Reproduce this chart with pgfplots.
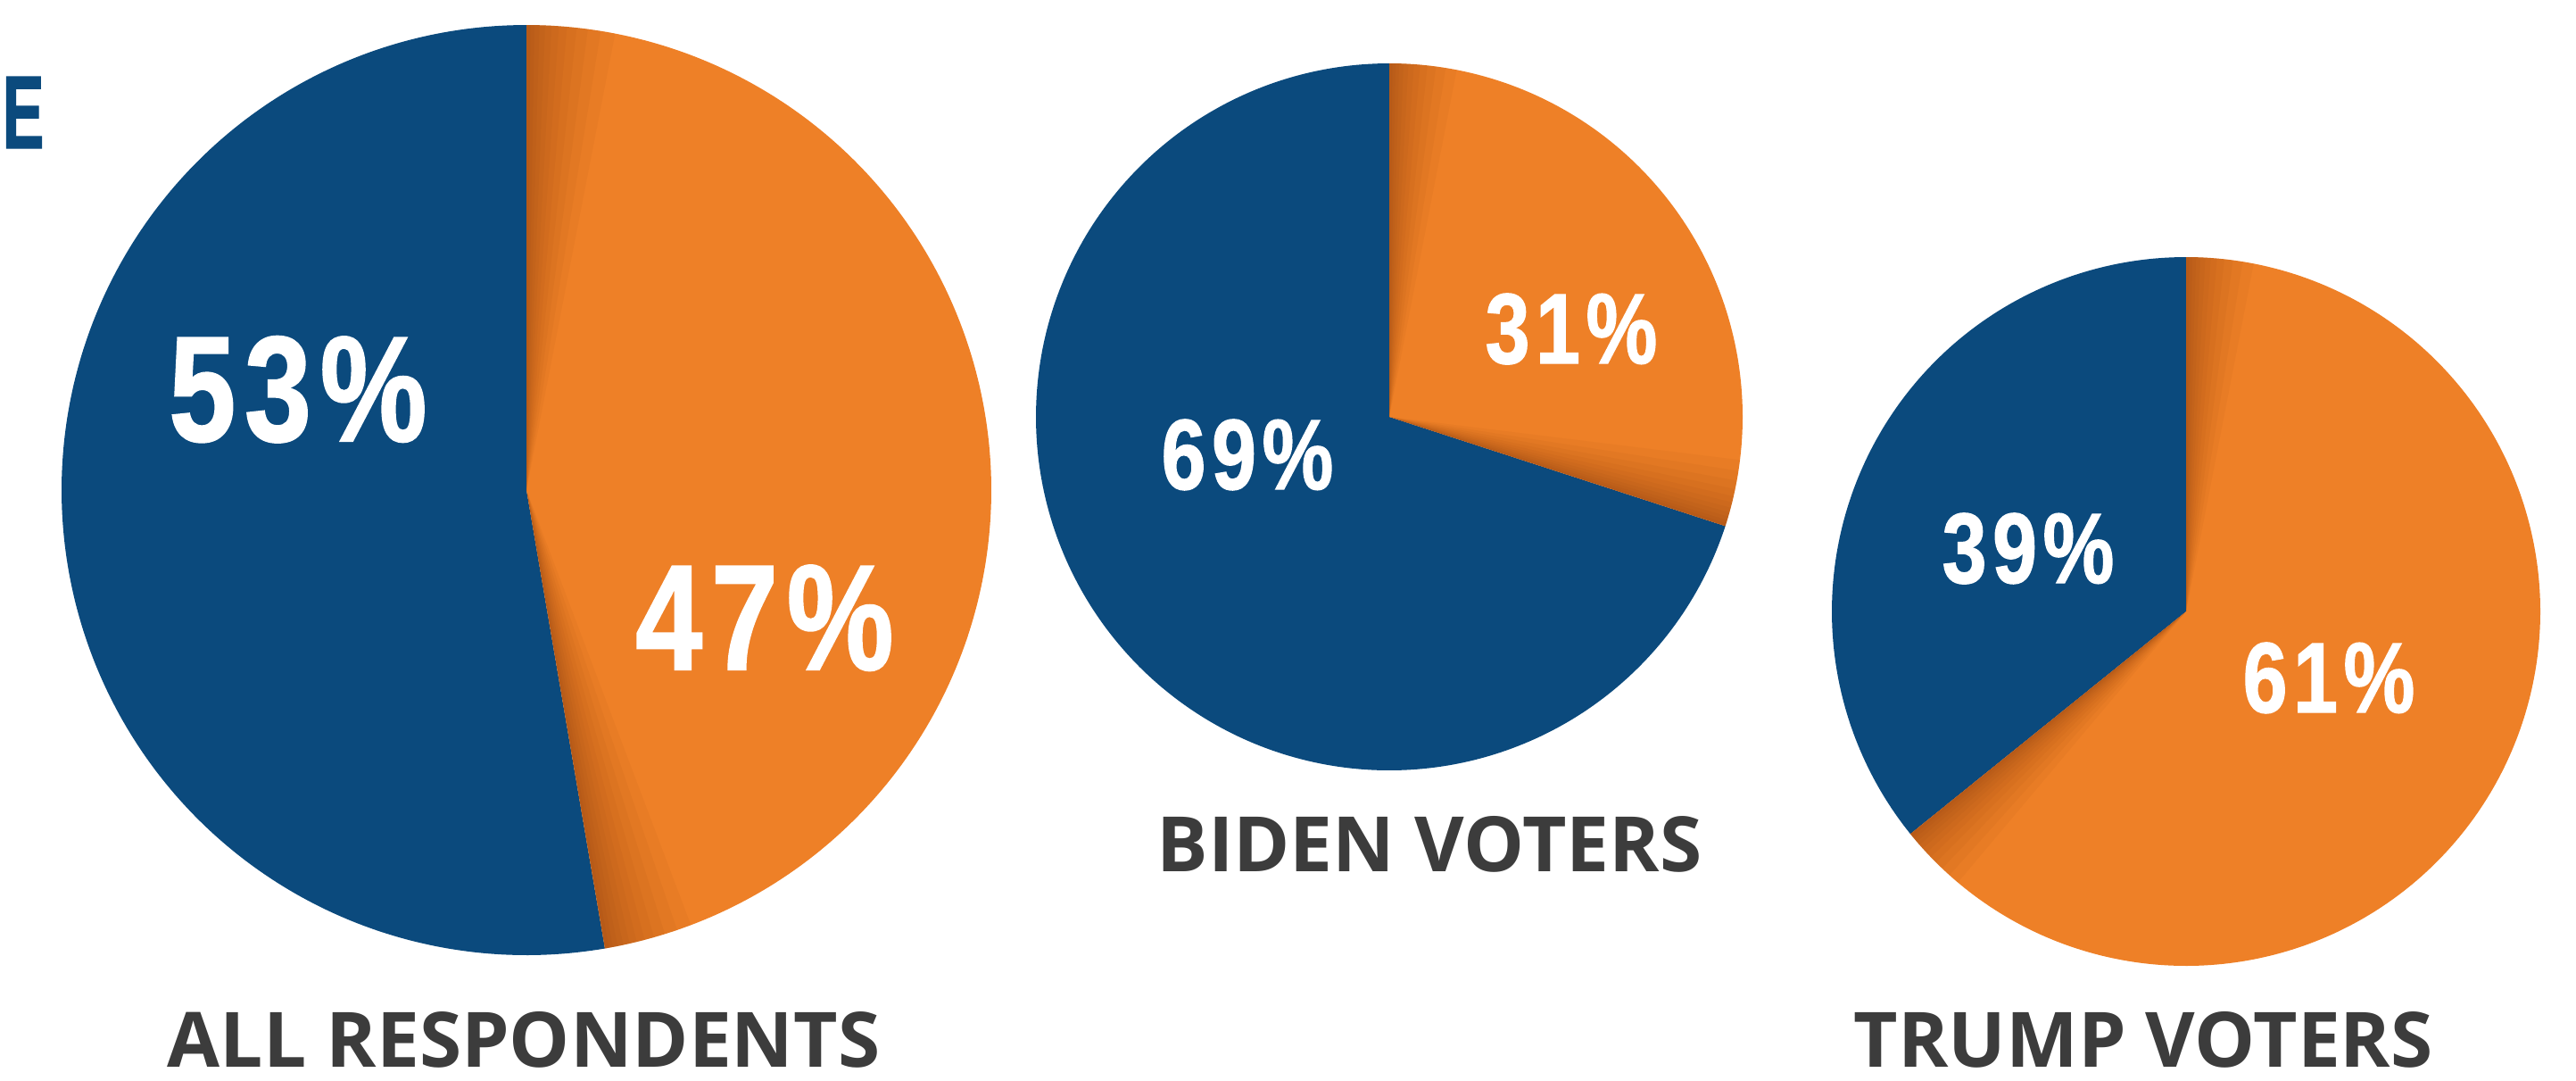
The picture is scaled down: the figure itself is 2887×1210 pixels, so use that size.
\documentclass[border=0pt]{standalone}
\usepackage{fontspec}
\usepackage{pgfplots}
\pgfplotsset{compat=1.18}
\usepgfplotslibrary{polar}
\setmainfont{Open Sans}
\newfontfamily\pctfont{Liberation Sans}[FakeStretch=0.8, FakeBold=1.2, LetterSpace=6]
\newfontfamily\efont{Liberation Sans}[FakeStretch=0.6, FakeBold=1.2]
\definecolor{cblue}{RGB}{11,74,125}
\definecolor{corange}{RGB}{238,128,39}
\definecolor{ctext}{RGB}{60,60,60}
\definecolor{cshade}{RGB}{105,42,8}

% share of the blue slice, as drawn (counter-clockwise from 12 o'clock)
\def\allBlue{52.7}
\def\bidenBlue{70}
\def\trumpBlue{35.8}

\newcommand{\drawpie}[4]{%
  \pgfmathsetmacro\bend{90+3.6*#4}%
  \begin{polaraxis}[at={(#1,#2)}, anchor=center, width=#3, height=#3,
      scale only axis, hide axis, xmin=0, xmax=360, ymin=0, ymax=1, clip=false]
    \addplot[draw=none, fill=cblue, domain=90:\bend, samples=240] {1} -- (axis cs:0,0) -- cycle;
    \addplot[draw=none, fill=corange, domain=\bend:450, samples=240] {1} -- (axis cs:0,0) -- cycle;
    \pgfplotsinvokeforeach{0.5,1,1.6,2.3,3.1,4,5,6.2,7.6,9.2,11}{%
      \addplot[draw=none, fill=cshade, fill opacity=0.045, domain=450-##1:450, samples=40] {1} -- (axis cs:0,0) -- cycle;
      \addplot[draw=none, fill=cshade, fill opacity=0.045, domain=\bend:\bend+##1, samples=40] {1} -- (axis cs:0,0) -- cycle;
    }
  \end{polaraxis}%
}

\begin{document}
\begin{tikzpicture}[x=0.25pt, y=-0.25pt]
  \useasboundingbox (0,0) rectangle (2887,1210);
  \drawpie{147.5pt}{-137.25pt}{260.5pt}{\allBlue}
  \drawpie{389.25pt}{-116.75pt}{198pt}{\bidenBlue}
  \drawpie{612.5pt}{-171.25pt}{198.5pt}{\trumpBlue}

  % percentage labels
  \begin{scope}[every node/.style={inner sep=0pt, anchor=base, text=white}]
    \node at (334,494) {\pctfont\bfseries\fontsize{42pt}{42pt}\selectfont 53\%};
    \node at (857,750) {\pctfont\bfseries\fontsize{42pt}{42pt}\selectfont 47\%};
    \node at (1398,548) {\pctfont\bfseries\fontsize{28pt}{28pt}\selectfont 69\%};
    \node at (1761,407) {\pctfont\bfseries\fontsize{28pt}{28pt}\selectfont 31\%};
    \node at (2273,653) {\pctfont\bfseries\fontsize{28pt}{28pt}\selectfont 39\%};
    \node at (2610,798) {\pctfont\bfseries\fontsize{28pt}{28pt}\selectfont 61\%};
  \end{scope}

  % category labels
  \begin{scope}[every node/.style={inner sep=0pt, anchor=base, text=ctext}]
    \node at (587,1195) {\bfseries\fontsize{21.4pt}{21.4pt}\selectfont ALL RESPONDENTS};
    \node at (1602,976) {\bfseries\fontsize{21.4pt}{21.4pt}\selectfont BIDEN VOTERS};
    \node at (2402,1195) {\bfseries\fontsize{21.4pt}{21.4pt}\selectfont TRUMP VOTERS};
  \end{scope}

  % title letter at the left edge
  \node[inner sep=0pt, anchor=base west, text=cblue] at (2,166)
    {\efont\bfseries\fontsize{29pt}{29pt}\selectfont E};
\end{tikzpicture}
\end{document}
